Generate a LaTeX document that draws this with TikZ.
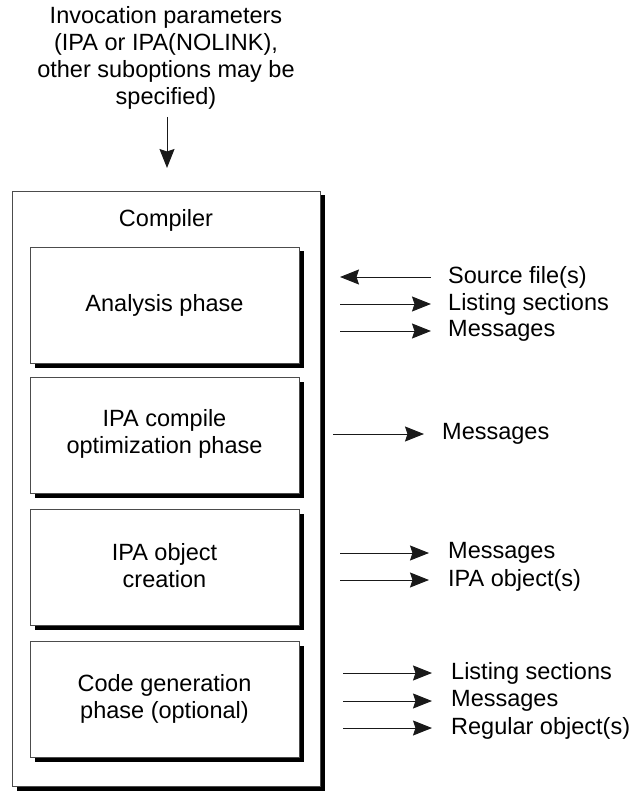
\documentclass[tikz,border=0pt]{standalone}
\usepackage{fontspec}
\setmainfont{Liberation Sans}
\usetikzlibrary{arrows.meta}
\begin{document}
\begin{tikzpicture}[x=1pt,y=-1pt,
  txt/.style={font=\fontsize{23.5}{27}\selectfont, inner sep=0pt, align=center, text=black},
  lbl/.style={font=\fontsize{23.5}{27}\selectfont, inner sep=0pt, anchor=west, text=black},
  box/.style={draw=black!70, line width=0.9pt, fill=white, inner sep=0pt},
  shad/.style={fill=black, draw=none, inner sep=0pt},
  phase/.style={minimum width=269pt, minimum height=116pt},
  outer/.style={minimum width=308pt, minimum height=595pt},
  arr/.style={line width=1pt, draw=black!90, -{Stealth[length=19pt,width=15pt,inset=2.5pt]}},
  larr/.style={line width=1pt, draw=black!90, {Stealth[length=19pt,width=15pt,inset=2.5pt]}-}]
\useasboundingbox (0,0) rectangle (634,791);

% top text and arrow
\node[txt] (inv) at (166,58) {Invocation parameters\\(IPA or IPA(NOLINK),\\other suboptions may be\\specified)};
\coordinate (invs) at (167,117);
\coordinate (inve) at (167,168);
\draw[arr] (invs) -- (inve);

% outer compiler box
\node[shad, outer] (compsh) at (171,493) {};
\node[box, outer] (comp) at (166,488.5) {};
\node[txt] (complbl) at (166,220) {Compiler};

% phases
\node[shad, phase] (anash) at (169.5,309.5) {};
\node[box, phase] (ana) at (164.5,305) {};
\node[txt] (analbl) at (ana.center) {Analysis phase};
\node[shad, phase] (ipcsh) at (169.5,439.5) {};
\node[box, phase] (ipc) at (164.5,435) {};
\node[txt] (ipclbl) at (164.5,433.5) {IPA compile\\optimization phase};
\node[shad, phase] (iposh) at (169.5,571.5) {};
\node[box, phase] (ipo) at (164.5,567) {};
\node[txt] (ipolbl) at (164.5,565.5) {IPA object\\creation};
\node[shad, phase] (cgsh) at (169.5,704) {};
\node[box, phase] (cg) at (164.5,699.5) {};
\node[txt] (cglbl) at (164.5,698.5) {Code generation\\phase (optional)};

% analysis outputs
\node[lbl] (src) at (448,277) {Source file(s)};
\node[lbl] (lst1) at (448,304) {Listing sections};
\node[lbl] (msg1) at (448,331) {Messages};
\coordinate (s1) at (340,277); \coordinate (e1) at (431,277);
\coordinate (s2) at (340,304); \coordinate (e2) at (431,304);
\coordinate (s3) at (340,331); \coordinate (e3) at (431,331);
\draw[larr] (s1) -- (e1);
\draw[arr] (s2) -- (e2);
\draw[arr] (s3) -- (e3);

% compile outputs
\node[lbl] (msg2) at (442,434) {Messages};
\coordinate (s4) at (333,434); \coordinate (e4) at (424,434);
\draw[arr] (s4) -- (e4);

% object outputs
\node[lbl] (msg3) at (448,553) {Messages};
\node[lbl] (obj) at (448,580) {IPA object(s)};
\coordinate (s5) at (340,553); \coordinate (e5) at (429,553);
\coordinate (s6) at (340,580); \coordinate (e6) at (429,580);
\draw[arr] (s5) -- (e5);
\draw[arr] (s6) -- (e6);

% code generation outputs
\node[lbl] (lst2) at (451,673) {Listing sections};
\node[lbl] (msg4) at (451,701) {Messages};
\node[lbl] (reg) at (451,728) {Regular object(s)};
\coordinate (s7) at (343,673); \coordinate (e7) at (432,673);
\coordinate (s8) at (343,701); \coordinate (e8) at (432,701);
\coordinate (s9) at (343,728); \coordinate (e9) at (432,728);
\draw[arr] (s7) -- (e7);
\draw[arr] (s8) -- (e8);
\draw[arr] (s9) -- (e9);
\end{tikzpicture}
\end{document}
